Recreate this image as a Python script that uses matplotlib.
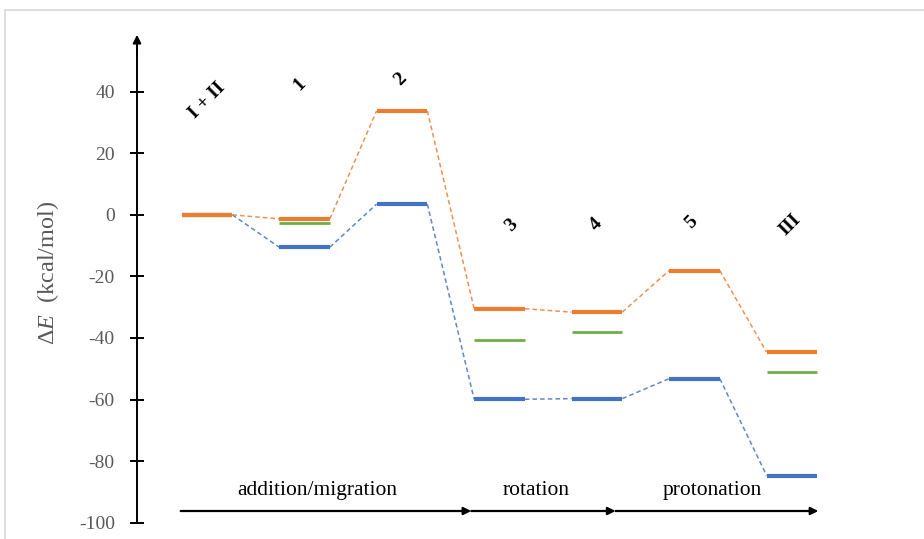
import matplotlib.pyplot as plt
from matplotlib.patches import Rectangle

plt.rcParams['font.family'] = ['Liberation Serif', 'DejaVu Serif']
plt.rcParams['mathtext.fontset'] = 'custom'
plt.rcParams['mathtext.rm'] = 'Liberation Serif'
plt.rcParams['mathtext.it'] = 'Liberation Serif:italic'
plt.rcParams['axes.unicode_minus'] = False

# 各状態のエネルギー (kcal/mol)
states = ['I + II', '1', '2', '3', '4', '5', 'III']
orange_E = [0, -1.3, 33.8, -30.5, -31.6, -18.1, -44.6]
blue_E = [0, -10.5, 3.5, -59.9, -59.7, -53.2, -84.7]
green_E = [None, -2.6, None, -40.8, -38.2, None, -50.9]

# 反応ステップ（下部矢印）
steps = ['addition/migration', 'rotation', 'protonation']
step_edges = [-0.27, 2.71, 4.19, 6.27]
step_text_x = [1.13, 3.38, 5.18]

yticks = [40, 20, 0, -20, -40, -60, -80, -100]

ORANGE = '#ED7D31'
BLUE = '#4472C4'
GREEN = '#70AD47'
GRAY = '#595959'

fig = plt.figure(figsize=(9.24, 5.39), dpi=100)
fig.patches.append(Rectangle((5 / 924, -0.05), 1.2, (539 - 9.5) / 539 + 0.05,
                             transform=fig.transFigure, fill=False,
                             edgecolor='#D9D9D9', linewidth=1.2))

ax = fig.add_axes([137 / 924, 16.3 / 539, 693 / 924, 486.4 / 539])
ax.set_xlim(-0.718, 6.39)
ax.set_ylim(-100, 58)

hw = 0.26  # 水平バーの半幅


def draw_levels(values, color, lw, connect):
    prev = None
    for i, v in enumerate(values):
        if v is None:
            continue
        ax.plot([i - hw, i + hw], [v, v], color=color, lw=lw,
                solid_capstyle='butt', zorder=3)
        if connect and prev is not None:
            ax.plot([prev[0] + hw, i - hw], [prev[1], v], color=color,
                    lw=1.1, ls=(0, (3, 2)), alpha=0.85, zorder=2)
        prev = (i, v)


draw_levels(blue_E, BLUE, 3.0, True)
draw_levels(green_E, GREEN, 2.0, False)
draw_levels(orange_E, ORANGE, 3.0, True)

# 状態ラベル
label_pos = [(0, 37), (-0.05, 42.5), (-0.02, 44), (0.12, -3.3),
             (-0.01, -3.0), (-0.03, -2.3), (-0.02, -3.3)]
for name, (dx, y) in zip(states, label_pos):
    ax.text(states.index(name) + dx, y, name, rotation=45, ha='center',
            va='center', fontsize=14, fontweight='bold', color='black')

# 縦軸
for s in ['top', 'right', 'bottom']:
    ax.spines[s].set_visible(False)
ax.spines['left'].set_bounds(-100, 55)
ax.spines['left'].set_linewidth(1.4)
ax.annotate('', xy=(0, 58.5), xytext=(0, 52), xycoords=('axes fraction', 'data'),
            textcoords=('axes fraction', 'data'),
            arrowprops=dict(arrowstyle='-|>', color='black', lw=1.4,
                            mutation_scale=12, shrinkA=0, shrinkB=0),
            annotation_clip=False)
ax.set_yticks(yticks)
ax.set_xticks([])
ax.tick_params(axis='y', direction='inout', length=10, width=1.4, pad=11,
               labelsize=14, labelcolor=GRAY)

fig.text(48 / 924, 1 - 273 / 539, r'Δ$\mathit{E}$  (kcal/mol)', rotation=90,
         ha='center', va='center', fontsize=17.5, color=GRAY)

# 下部の反応ステップ矢印
for k, name in enumerate(steps):
    x0, x1 = step_edges[k], step_edges[k + 1]
    ax.annotate('', xy=(x1, -96.2), xytext=(x0, -96.2),
                arrowprops=dict(arrowstyle='-|>', color='black', lw=1.6,
                                mutation_scale=11, shrinkA=0, shrinkB=0),
                annotation_clip=False)
    ax.text(step_text_x[k], -89.5, name, ha='center', va='center',
            fontsize=15.5, color='black')

fig.savefig('out.png', dpi=100)
